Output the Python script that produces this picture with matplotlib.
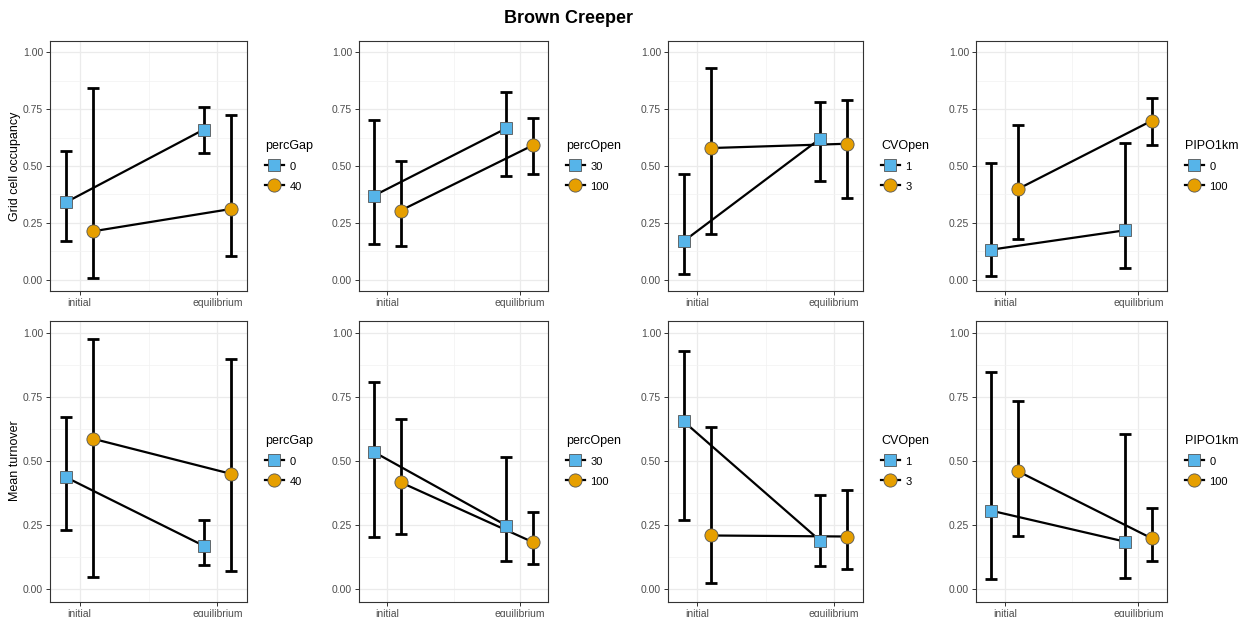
import matplotlib
matplotlib.use("Agg")
import matplotlib.pyplot as plt
from matplotlib.lines import Line2D
from matplotlib.ticker import MultipleLocator

plt.rcParams['font.family'] = ['Liberation Sans', 'DejaVu Sans']

# data: [initial, equilibrium] for each level, with lower / upper bounds
stages = ["initial", "equilibrium"]
variables = ["percGap", "percOpen", "CVOpen", "PIPO1km"]
levels = [["0", "40"], ["30", "100"], ["1", "3"], ["0", "100"]]

# occupancy (top row)
occ_mean_a = [[0.340, 0.660], [0.370, 0.666], [0.169, 0.620], [0.132, 0.217]]
occ_lo_a = [[0.169, 0.557], [0.157, 0.455], [0.026, 0.433], [0.015, 0.051]]
occ_hi_a = [[0.565, 0.760], [0.701, 0.827], [0.466, 0.783], [0.513, 0.601]]
occ_mean_b = [[0.213, 0.311], [0.304, 0.591], [0.579, 0.598], [0.399, 0.699]]
occ_lo_b = [[0.007, 0.103], [0.147, 0.466], [0.201, 0.361], [0.179, 0.591]]
occ_hi_b = [[0.843, 0.726], [0.523, 0.713], [0.931, 0.790], [0.680, 0.798]]

# turnover (bottom row)
turn_mean_a = [[0.437, 0.169], [0.535, 0.248], [0.655, 0.189], [0.306, 0.185]]
turn_lo_a = [[0.231, 0.095], [0.202, 0.111], [0.271, 0.089], [0.039, 0.043]]
turn_hi_a = [[0.671, 0.271], [0.810, 0.515], [0.932, 0.368], [0.847, 0.606]]
turn_mean_b = [[0.587, 0.450], [0.417, 0.183], [0.209, 0.205], [0.460, 0.198]]
turn_lo_b = [[0.048, 0.069], [0.213, 0.098], [0.022, 0.078], [0.206, 0.108]]
turn_hi_b = [[0.978, 0.900], [0.666, 0.299], [0.635, 0.387], [0.734, 0.318]]

blue = "#56B4E9"
orange = "#E69F00"

fig = plt.figure(figsize=(12.5, 6.17), dpi=100)

W, H = 1250, 617
col_lr = [(50, 247), (359, 548), (668, 863), (976, 1167)]
row_tb = [(41, 291), (320.5, 601.7)]

rows = [
    ("Grid cell occupancy", [occ_mean_a, occ_lo_a, occ_hi_a], [occ_mean_b, occ_lo_b, occ_hi_b]),
    ("Mean turnover", [turn_mean_a, turn_lo_a, turn_hi_a], [turn_mean_b, turn_lo_b, turn_hi_b]),
]

for r, (ylab, ga, gb) in enumerate(rows):
    top, bot = row_tb[r]
    for c in range(4):
        left, right = col_lr[c]
        ax = fig.add_axes([left / W, 1 - bot / H, (right - left) / W, (bot - top) / H])
        groups = [(ga, blue, "s", 8.5, -0.1), (gb, orange, "o", 9.5, 0.1)]
        for g, col, mk, ms, off in groups:
            m, lo, hi = g[0][c], g[1][c], g[2][c]
            xs = [1 + off, 2 + off]
            err = [[m[i] - lo[i] for i in range(2)], [hi[i] - m[i] for i in range(2)]]
            ax.errorbar(xs, m, yerr=err, fmt="none", ecolor="black", elinewidth=2.0,
                        capsize=4.6, capthick=2.0, zorder=2)
            ax.plot(xs, m, color="black", lw=1.6, zorder=3)
            ax.plot(xs, m, linestyle="none", marker=mk, markersize=ms, markerfacecolor=col,
                    markeredgecolor="#555555", markeredgewidth=0.6, zorder=4)

        ax.set_xlim(0.785, 2.215)
        ax.set_ylim(-0.05, 1.05)
        ax.set_xticks([1, 2])
        ax.set_xticklabels(stages)
        ax.xaxis.set_minor_locator(MultipleLocator(0.5))
        ax.set_yticks([0, 0.25, 0.5, 0.75, 1.0])
        ax.set_yticklabels(["0.00", "0.25", "0.50", "0.75", "1.00"])
        ax.yaxis.set_minor_locator(MultipleLocator(0.125))
        ax.grid(which="major", color="#EBEBEB", lw=0.9, zorder=0)
        ax.grid(which="minor", color="#F2F2F2", lw=0.5, zorder=0)
        ax.set_axisbelow(True)
        ax.tick_params(which="major", length=3, width=0.7, color="#333333",
                       labelsize=7.5, labelcolor="#4D4D4D", pad=2)
        ax.tick_params(which="minor", length=0)
        for s in ax.spines.values():
            s.set_color("#333333")
            s.set_linewidth(0.8)

        if c == 0:
            ax.set_ylabel(ylab, fontsize=9, color="black")
            ax.yaxis.set_label_coords(-0.145, 0.5)

        handles = [
            Line2D([], [], color="black", lw=1.6, marker="s", markersize=8.5,
                   markerfacecolor=blue, markeredgecolor="#555555", markeredgewidth=0.6),
            Line2D([], [], color="black", lw=1.6, marker="o", markersize=9.5,
                   markerfacecolor=orange, markeredgecolor="#555555", markeredgewidth=0.6),
        ]
        leg_x = (col_lr[c][1] + 18 - left) / (right - left)
        leg = ax.legend(handles, levels[c], title=variables[c], loc="center left",
                        bbox_to_anchor=(leg_x, 0.5), frameon=False, fontsize=8,
                        title_fontsize=9, handlelength=1.7, handleheight=1.3,
                        labelspacing=0.75, handletextpad=0.5, borderpad=0,
                        borderaxespad=0, alignment="left")

fig.text(568.5 / W, 1 - 18.3 / H, "Brown Creeper", ha="center", va="center",
         fontsize=13, fontweight="bold")

fig.savefig("out.png", dpi=100)
